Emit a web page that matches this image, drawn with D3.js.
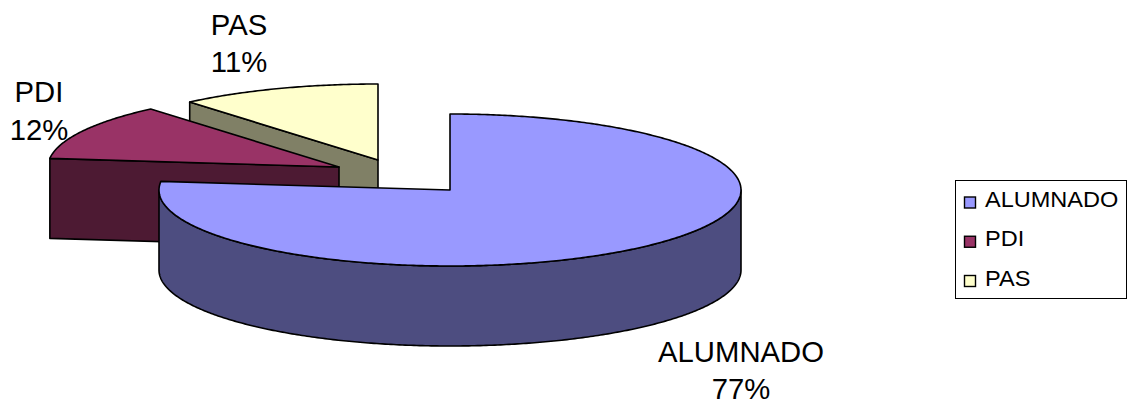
<!DOCTYPE html>
<html>
<head>
<meta charset="utf-8">
<script src="https://d3js.org/d3.v7.min.js"></script>
<style>
    html, body { margin: 0; padding: 0; background: #fff; }
    svg { display: block; }
    text { font-family: "Liberation Sans", Arial, sans-serif; fill: #000; }
</style>
</head>
<body>
<svg id="main_canvas" width="1127" height="403"></svg>
<script>
    const categories = ["ALUMNADO", "PDI", "PAS"];
    // the chart only prints them rounded
    const shares = [76.8, 12, 11.2];
    const topColors = ["#9999ff", "#993366", "#ffffcc"];
    const sideColors = ["#4d4d80", "#4d1a33", "#808066"];

    const RX = 291;
    const RY = 76;
    const DEPTH = 80;

    // where each exploded slice ended up, and where its label sits
    const centers = [[450, 190], [339, 167], [378, 160]];
    const labelPos = [[741, 362, 37], [39, 102, 38], [239, 35, 37]];

    const svg = d3.select("#main_canvas");

    const pie = d3.pie().sort(null).value(d => d);
    const arcs = pie(shares);

    // flattened ellipse projection, angle 0 = top, clockwise
    const project = (c, a, drop = 0) => [
        c[0] + RX * Math.sin(a),
        c[1] - RY * Math.cos(a) + drop
    ];
    const line = d3.line();
    const sweep = (a0, a1) => {
        const n = Math.max(2, Math.ceil((a1 - a0) / 0.01));
        return d3.range(n + 1).map(i => a0 + (a1 - a0) * i / n);
    };

    const drawShape = (points, fill) => {
        svg.append("path")
            .attr("d", line(points) + "Z")
            .attr("fill", fill)
            .attr("stroke", "#000")
            .attr("stroke-width", 1.6)
            .attr("stroke-linejoin", "round");
    };

    // back to front: PAS, PDI, ALUMNADO
    d3.range(arcs.length - 1, -1, -1).forEach(i => {
        const c = centers[i];
        const a0 = arcs[i].startAngle;
        const a1 = arcs[i].endAngle;
        const side = sideColors[i];

        // cut face on the start edge, when it looks towards the viewer
        if (Math.sin(a0) < -0.001) {
            const p = project(c, a0);
            drawShape([c, p, [p[0], p[1] + DEPTH], [c[0], c[1] + DEPTH]], side);
        }
        // cut face on the end edge
        if (Math.sin(a1) > 0.001) {
            const p = project(c, a1);
            drawShape([c, p, [p[0], p[1] + DEPTH], [c[0], c[1] + DEPTH]], side);
        }
        // outer wall, front half only
        const w0 = Math.max(a0, Math.PI / 2);
        const w1 = Math.min(a1, 3 * Math.PI / 2);
        if (w1 > w0) {
            const angles = sweep(w0, w1);
            drawShape(
                angles.map(a => project(c, a))
                    .concat(angles.slice().reverse().map(a => project(c, a, DEPTH))),
                side
            );
        }
        // top face
        drawShape([c].concat(sweep(a0, a1).map(a => project(c, a))), topColors[i]);
    });

    // data labels
    categories.forEach((name, i) => {
        const [x, y, gap] = labelPos[i];
        [name, Math.round(shares[i]) + "%"].forEach((t, j) => {
            svg.append("text")
                .attr("transform", `translate(${x},${y + j * gap}) scale(1.01,1)`)
                .attr("text-anchor", "middle")
                .style("font-size", "29px")
                .text(t);
        });
    });

    // legend
    const legend = svg.append("g");
    legend.append("rect")
        .attr("x", 955.5).attr("y", 180.5)
        .attr("width", 171).attr("height", 118)
        .attr("fill", "#fff")
        .attr("stroke", "#000")
        .attr("stroke-width", 1);

    const legendY = d3.scalePoint().domain(categories).range([202.5, 281]);

    const item = legend.selectAll(".item")
        .data(categories)
        .join("g")
        .attr("class", "item")
        .attr("transform", d => `translate(0,${legendY(d)})`);
    item.append("rect")
        .attr("x", 964.5).attr("y", -5.5)
        .attr("width", 11).attr("height", 11)
        .attr("fill", (d, i) => topColors[i])
        .attr("stroke", "#000")
        .attr("stroke-width", 1.4);
    item.append("text")
        .attr("transform", "translate(985,4.5) scale(1.07,1)")
        .style("font-size", "22px")
        .text(d => d);
</script>
</body>
</html>
